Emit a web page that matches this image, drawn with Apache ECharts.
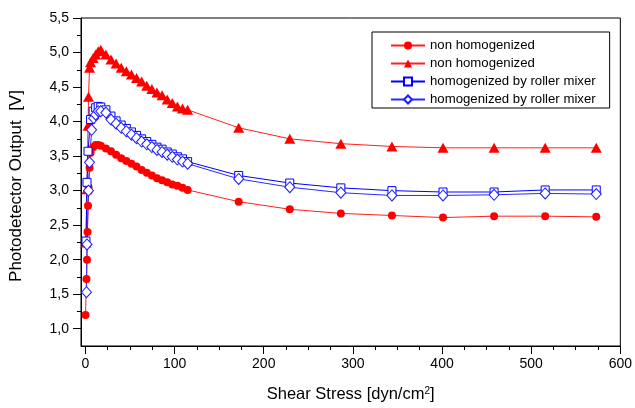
<!DOCTYPE html>
<html><head><meta charset="utf-8">
<script src="https://cdn.jsdelivr.net/npm/echarts@6/dist/echarts.min.js"></script>
<style>html,body{margin:0;padding:0;background:#fff}#c{width:635px;height:408px}</style>
</head><body><div id="c"></div>
<script>
// Series 1: non homogenized (filled circles)
const circleX = [0.06, 1.15, 1.72, 2.29, 2.87, 3.44, 4.58, 5.73, 8.6, 11.46, 14.33, 17.19, 22.92, 28.65, 34.38, 40.11, 45.84, 51.57, 57.3, 63.03, 68.76, 74.49, 80.22, 85.95, 91.68, 97.41, 103.14, 108.87, 114.6, 171.9, 229.2, 286.5, 343.8, 401.1, 458.4, 515.7, 573];
const circleY = [1.20, 1.72, 2.00, 2.40, 2.78, 3.05, 3.33, 3.55, 3.63, 3.66, 3.66, 3.65, 3.61, 3.57, 3.52, 3.47, 3.43, 3.39, 3.35, 3.30, 3.26, 3.22, 3.18, 3.15, 3.12, 3.09, 3.07, 3.04, 3.01, 2.84, 2.73, 2.67, 2.64, 2.61, 2.63, 2.63, 2.62];
// Series 2: non homogenized (filled triangles)
const triangleX = [0.57, 1.72, 2.87, 3.44, 4.58, 5.73, 8.6, 11.46, 14.33, 17.19, 22.92, 28.65, 34.38, 40.11, 45.84, 51.57, 57.3, 63.03, 68.76, 74.49, 80.22, 85.95, 91.68, 97.41, 103.14, 108.87, 114.6, 171.9, 229.2, 286.5, 343.8, 401.1, 458.4, 515.7, 573];
const triangleY = [2.25, 3.02, 3.94, 4.36, 4.78, 4.86, 4.92, 4.97, 5.02, 5.04, 4.97, 4.90, 4.84, 4.78, 4.73, 4.68, 4.63, 4.58, 4.52, 4.47, 4.42, 4.38, 4.32, 4.27, 4.22, 4.19, 4.17, 3.91, 3.75, 3.68, 3.64, 3.62, 3.62, 3.62, 3.62];
// Series 3: homogenized by roller mixer (open squares)
const squareX = [0.57, 1.72, 2.87, 5.73, 8.6, 11.46, 14.33, 17.19, 22.92, 28.65, 34.38, 40.11, 45.84, 51.57, 57.3, 63.03, 68.76, 74.49, 80.22, 85.95, 91.68, 97.41, 103.14, 108.87, 114.6, 171.9, 229.2, 286.5, 343.8, 401.1, 458.4, 515.7, 573];
const squareY = [2.27, 3.12, 3.57, 4.03, 4.15, 4.20, 4.22, 4.21, 4.17, 4.08, 4.01, 3.95, 3.90, 3.85, 3.80, 3.75, 3.71, 3.67, 3.63, 3.60, 3.56, 3.53, 3.49, 3.46, 3.42, 3.22, 3.11, 3.04, 3.00, 2.98, 2.98, 3.01, 3.01];
// Series 4: homogenized by roller mixer (open diamonds)
const diamondX = [1.15, 1.72, 3.44, 4.58, 6.88, 9.17, 11.46, 14.33, 17.19, 22.92, 28.65, 34.38, 40.11, 45.84, 51.57, 57.3, 63.03, 68.76, 74.49, 80.22, 85.95, 91.68, 97.41, 103.14, 108.87, 114.6, 171.9, 229.2, 286.5, 343.8, 401.1, 458.4, 515.7, 573];
const diamondY = [1.53, 2.22, 3.00, 3.41, 3.88, 4.05, 4.10, 4.15, 4.15, 4.13, 4.03, 3.97, 3.91, 3.86, 3.81, 3.76, 3.71, 3.67, 3.63, 3.59, 3.56, 3.52, 3.49, 3.45, 3.42, 3.39, 3.17, 3.05, 2.97, 2.93, 2.93, 2.94, 2.96, 2.95];

const seriesNames = ['non homogenized', 'non homogenized', 'homogenized by roller mixer', 'homogenized by roller mixer'];
const xTickValues = [0, 100, 200, 300, 400, 500, 600];
const yTickValues = [1.0, 1.5, 2.0, 2.5, 3.0, 3.5, 4.0, 4.5, 5.0, 5.5];
const xTitle = 'Shear Stress [dyn/cm{sup|2}]';
const yTitle = 'Photodetector Output  [V]';

const FONT = '"Liberation Sans", Arial, Helvetica, sans-serif';
const zip = (xs, ys) => xs.map((x, i) => [x, ys[i]]);
// unique legend keys (legend merges identical names); shown trimmed
const keys = seriesNames.map((n, i) => n + ' '.repeat(i));

const chart = echarts.init(document.getElementById('c'), null, {renderer: 'canvas'});
chart.setOption({
  animation: false,
  backgroundColor: '#fff',
  textStyle: {fontFamily: FONT},
  grid: {left: 81, top: 18, right: 14, bottom: 62, show: true, borderColor: '#000', borderWidth: 1, backgroundColor: 'transparent'},
  legend: {
    orient: 'vertical', left: 372, top: 32,
    itemWidth: 34, itemHeight: 10, itemGap: 5,
    padding: [7, 14, 2, 18],
    borderColor: '#000', borderWidth: 1, backgroundColor: '#fff',
    selectedMode: false,
    textStyle: {fontSize: 13.2, color: '#000', fontFamily: FONT},
    formatter: n => n.trim(),
    data: keys
  },
  xAxis: {
    type: 'value', min: -5, max: 600, splitNumber: 6,
    axisLine: {onZero: false, lineStyle: {color: '#000', width: 1}},
    axisTick: {show: true, length: 8, customValues: xTickValues, lineStyle: {color: '#000'}},
    minorTick: {show: true, splitNumber: 4, length: 4, lineStyle: {color: '#000'}},
    axisLabel: {customValues: xTickValues, fontSize: 14, color: '#000', margin: 11, fontFamily: FONT},
    splitLine: {show: false},
    name: xTitle, nameLocation: 'middle', nameGap: 40,
    nameTextStyle: {fontSize: 16.5, color: '#000', fontFamily: FONT,
      rich: {sup: {fontSize: 10, verticalAlign: 'top', color: '#000', fontFamily: FONT}}}
  },
  yAxis: {
    type: 'value', min: 0.75, max: 5.5, splitNumber: 10,
    axisLine: {onZero: false, lineStyle: {color: '#000', width: 1}},
    axisTick: {show: true, length: 8, customValues: yTickValues, lineStyle: {color: '#000'}},
    minorTick: {show: true, splitNumber: 2, length: 4, lineStyle: {color: '#000'}},
    axisLabel: {customValues: yTickValues, fontSize: 14, color: '#000', margin: 12, fontFamily: FONT,
      formatter: v => v.toFixed(1).replace('.', ',')},
    splitLine: {show: false},
    name: yTitle, nameLocation: 'middle', nameGap: 56, nameRotate: 90,
    nameTextStyle: {fontSize: 17, color: '#000', fontFamily: FONT, padding: [0, 8, 0, 0]}
  },
  series: [
    {name: keys[0], type: 'line', data: zip(circleX, circleY), symbol: 'circle', symbolSize: 8, showAllSymbol: true,
      itemStyle: {color: '#ff0000'}, lineStyle: {color: '#ff2020', width: 1}},
    {name: keys[1], type: 'line', data: zip(triangleX, triangleY), symbol: 'triangle', symbolSize: [11, 10], showAllSymbol: true,
      itemStyle: {color: '#ff0000'}, lineStyle: {color: '#ff2020', width: 1}},
    {name: keys[2], type: 'line', data: zip(squareX, squareY), symbol: 'rect', symbolSize: 8, showAllSymbol: true,
      itemStyle: {color: '#ffffff', borderColor: '#0000ff', borderWidth: 1}, lineStyle: {color: '#0000ff', width: 1}},
    {name: keys[3], type: 'line', data: zip(diamondX, diamondY), symbol: 'diamond', symbolSize: [10, 11], showAllSymbol: true,
      itemStyle: {color: '#ffffff', borderColor: '#1a1aff', borderWidth: 1}, lineStyle: {color: '#2a2aff', width: 1}}
  ]
});
</script>
</body></html>
